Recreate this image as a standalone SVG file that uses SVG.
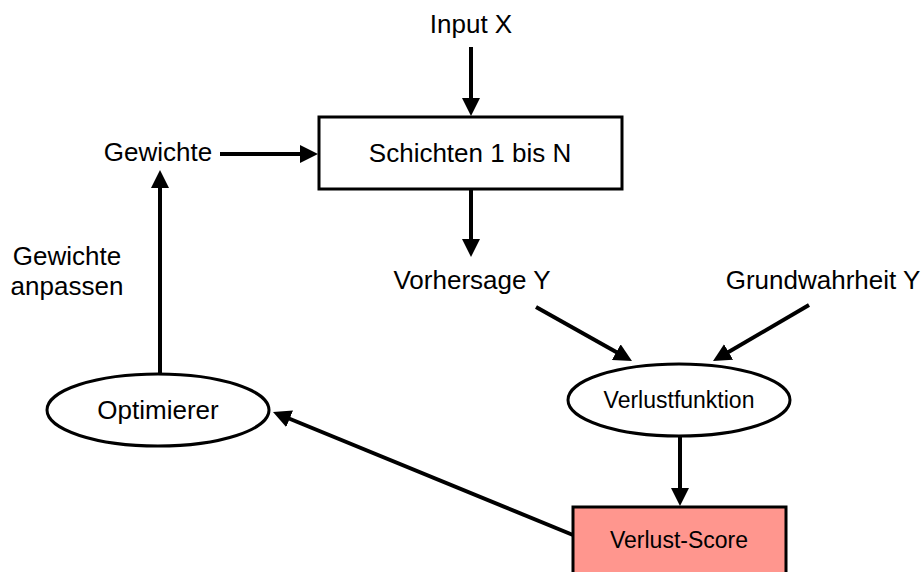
<svg xmlns="http://www.w3.org/2000/svg" width="923" height="572" viewBox="0 0 923 572">
<defs>
<style>
text{font-family:"Liberation Sans",Arial,sans-serif;fill:#000;text-anchor:middle}
.t{font-size:26px}
.s{font-size:23px}
.n{fill:#fff;stroke:#000;stroke-width:3}
.c line{stroke:#000;stroke-width:4;marker-end:url(#ah)}
</style>
<marker id="ah" viewBox="0 0 18 18" markerWidth="18" markerHeight="18" markerUnits="userSpaceOnUse" refX="6" refY="9" orient="auto">
<path d="M0,0 L18,9 L0,18 z" fill="#000"/>
</marker>
</defs>
<rect width="923" height="572" fill="#fff"/>
<g id="input-x"><text class="t" x="471" y="33">Input X</text></g>
<g id="schichten"><rect class="n" x="319" y="117" width="303" height="72"/><text class="t" x="470" y="162">Schichten 1 bis N</text></g>
<g id="gewichte"><text class="t" x="158" y="161">Gewichte</text></g>
<g id="gewichte-anpassen"><text class="t" x="67" y="265">Gewichte</text><text class="t" x="67" y="295">anpassen</text></g>
<g id="vorhersage"><text class="t" x="472" y="289">Vorhersage Y</text></g>
<g id="grundwahrheit"><text class="t" x="823" y="289">Grundwahrheit Y</text></g>
<g id="verlustfunktion"><ellipse class="n" cx="679" cy="400" rx="111" ry="36"/><text class="s" x="679" y="408">Verlustfunktion</text></g>
<g id="optimierer"><ellipse class="n" cx="158" cy="410" rx="111" ry="36"/><text class="t" x="158" y="419">Optimierer</text></g>
<g id="verlust-score"><rect class="n" x="573" y="507" width="213" height="75" style="fill:#FF968E"/><text class="s" x="679" y="548">Verlust-Score</text></g>
<g id="connectors" class="c">
<line x1="471" y1="47" x2="471" y2="104"/>
<line x1="220" y1="154" x2="306" y2="154"/>
<line x1="471" y1="190" x2="471" y2="245"/>
<line x1="536" y1="307" x2="621.5" y2="355.1"/>
<line x1="809" y1="305" x2="723.4" y2="355"/>
<line x1="680" y1="436" x2="680" y2="494"/>
<line x1="573" y1="535" x2="284.1" y2="416.5"/>
<line x1="160" y1="374" x2="160" y2="182"/>
</g>
</svg>
